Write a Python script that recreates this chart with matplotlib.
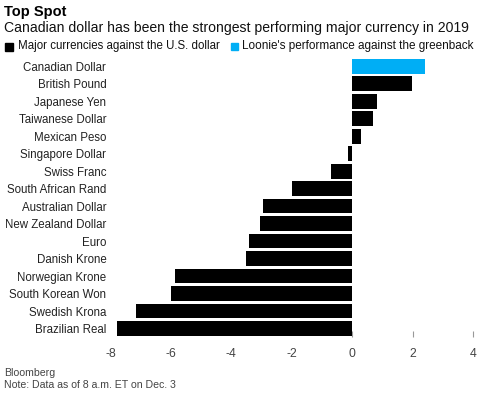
import matplotlib
matplotlib.use("Agg")
import matplotlib.pyplot as plt

currencies = ["Canadian Dollar", "British Pound", "Japanese Yen", "Taiwanese Dollar",
              "Mexican Peso", "Singapore Dollar", "Swiss Franc", "South African Rand",
              "Australian Dollar", "New Zealand Dollar", "Euro", "Danish Krone",
              "Norwegian Krone", "South Korean Won", "Swedish Krona", "Brazilian Real"]
values = [2.42, 1.99, 0.83, 0.68, 0.29, -0.15, -0.71, -1.98,
          -2.96, -3.04, -3.43, -3.52, -5.85, -6.0, -7.16, -7.77]
xticks = [-8, -6, -4, -2, 0, 2, 4]

BLUE = "#00AEF5"
plt.rcParams["font.family"] = ["Liberation Sans", "DejaVu Sans"]

W, H = 483, 394
fig = plt.figure(figsize=(W / 100, H / 100), dpi=100)
ax = fig.add_axes([110.5 / W, (H - 337) / H, 362.5 / W, 278 / H])

n = len(currencies)
ypos = list(range(n - 1, -1, -1))
colors = [BLUE if c == "Canadian Dollar" else "black" for c in currencies]
ax.barh(ypos, values, height=0.84, color=colors, zorder=3)
ax.set_xlim(-8, 4)
ax.set_ylim(-0.487, n - 1 + 0.42)
ax.set_xticks(xticks)
ax.set_xticklabels([str(t) for t in xticks], fontsize=8.8, color="#444444")
ax.set_yticks(ypos)
ax.set_yticklabels(currencies, fontsize=8.3, color="#222222")
ax.tick_params(axis="y", length=0, pad=3)
ax.tick_params(axis="x", direction="in", length=4, width=0.8, color="#999999", pad=8)
for t, tk in zip(xticks, ax.xaxis.get_major_ticks()):
    if t < 0:
        tk.tick1line.set_visible(False)
for s in ax.spines.values():
    s.set_visible(False)

fig.text(4 / W, 1 - 12 / H, "Top Spot", fontsize=10.5, fontweight="bold", va="center", ha="left")
fig.text(4 / W, 1 - 28 / H, "Canadian dollar has been the strongest performing major currency in 2019",
         fontsize=10.1, va="center", ha="left", color="#111111")

# legend
fig.patches.append(plt.Rectangle((5 / W, 1 - 50.5 / H), 8 / W, 8 / H, transform=fig.transFigure,
                                 color="black", figure=fig))
fig.text(18 / W, 1 - 46.5 / H, "Major currencies against the U.S. dollar", fontsize=8.3,
         va="center", ha="left", color="#111111")
fig.patches.append(plt.Rectangle((231 / W, 1 - 50 / H), 7 / W, 7 / H, transform=fig.transFigure,
                                 color=BLUE, figure=fig))
fig.text(242 / W, 1 - 46.5 / H, "Loonie's performance against the greenback", fontsize=8.5,
         va="center", ha="left", color="#111111")

fig.text(4 / W, 1 - 373 / H, "Bloomberg", fontsize=7.6, va="center", ha="left", color="#444444")
fig.text(4 / W, 1 - 384.5 / H, "Note: Data as of 8 a.m. ET on Dec. 3", fontsize=7.6, va="center",
         ha="left", color="#444444")

fig.savefig("out.png", dpi=100)
